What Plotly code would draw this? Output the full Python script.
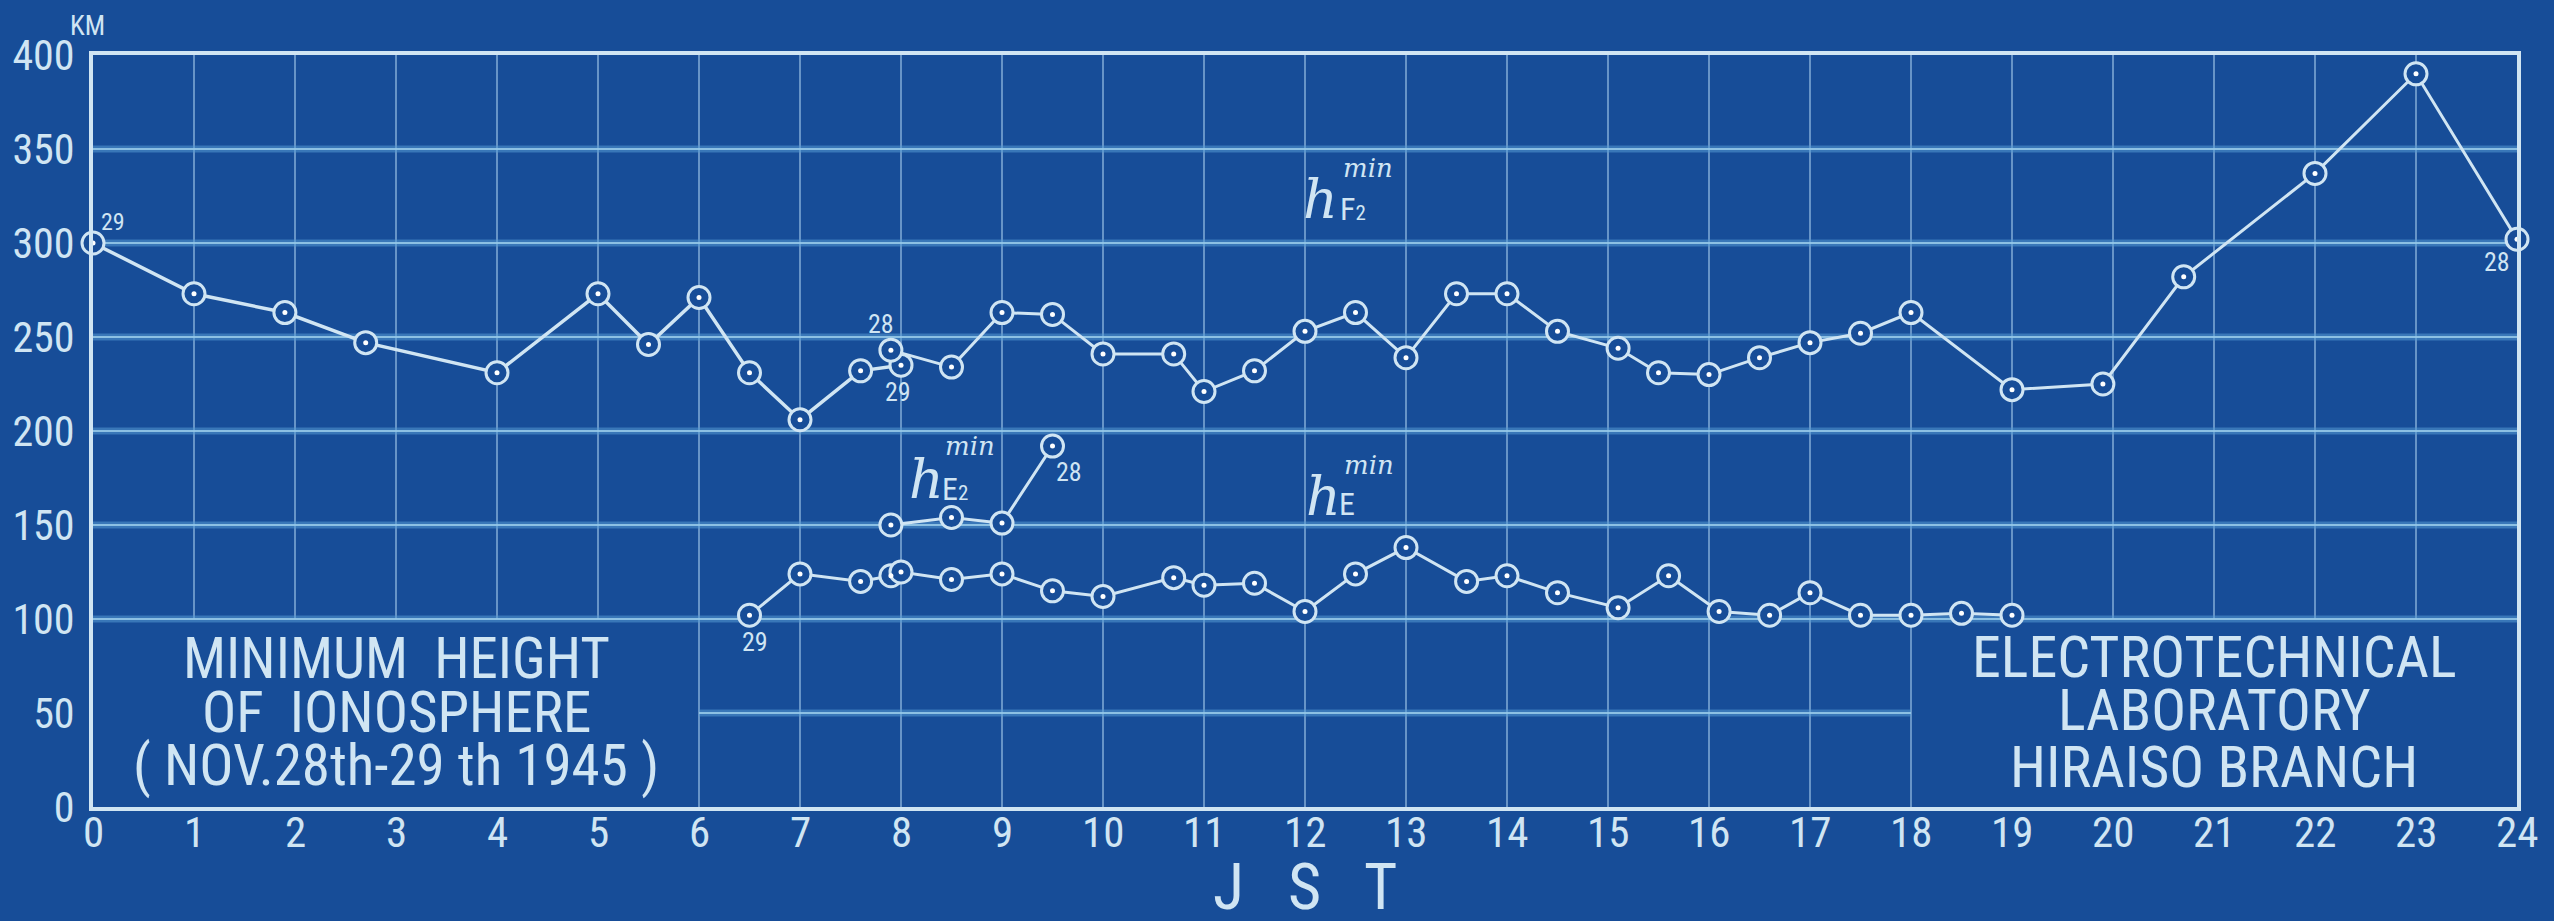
import plotly.graph_objects as go

# ---------------- data ----------------
hours = list(range(0, 25))
heights = list(range(0, 401, 50))

hF2_29_x = [0, 1, 1.9, 2.7, 4, 5, 5.5, 6, 6.5, 7, 7.6, 8.0]
hF2_29_y = [300, 273, 263, 247, 231, 273, 246, 271, 231, 206, 232, 235]

hF2_28_x = [7.9, 8.5, 9, 9.5, 10, 10.7, 11, 11.5, 12, 12.5, 13, 13.5, 14, 14.5,
            15.1, 15.5, 16, 16.5, 17, 17.5, 18, 19, 19.9, 20.7, 22, 23, 24]
hF2_28_y = [243, 234, 263, 262, 241, 241, 221, 232, 253, 263, 239, 273, 273, 253,
            244, 231, 230, 239, 247, 252, 263, 222, 225, 282, 337, 390, 302]

hE2_x = [7.9, 8.5, 9, 9.5]
hE2_y = [150, 154, 151, 192]

hE_x = [6.5, 7, 7.6, 7.9, 8.0, 8.5, 9, 9.5, 10, 10.7, 11, 11.5, 12, 12.5, 13,
        13.6, 14, 14.5, 15.1, 15.6, 16.1, 16.6, 17, 17.5, 18, 18.5, 19]
hE_y = [102, 124, 120, 123, 125, 121, 124, 115, 112, 122, 118, 119, 104, 124, 138,
        120, 123, 114, 106, 123, 104, 102, 114, 102, 102, 103, 102]

left_title = ["MINIMUM  HEIGHT", "OF  IONOSPHERE", "( NOV.28th-29 th 1945 )"]
right_title = ["ELECTROTECHNICAL", "LABORATORY", "HIRAISO BRANCH"]

# ---------------- style ----------------
BG = "#174d98"
INK = "rgb(208,229,243)"
GRID_V = "rgba(165,205,235,0.75)"
GRID_H_HALO = "rgba(85,155,212,0.55)"
GRID_H = "rgba(150,200,232,0.9)"
FONT = "Liberation Sans Narrow, Roboto Condensed, Liberation Sans, Roboto, sans-serif"
SERIF = "DejaVu Serif, Liberation Serif, serif"

# regions kept free of grid (text boxes)
LEFT_BOX = dict(x0=0, x1=6, y1=100)
RIGHT_BOX = dict(x0=18, x1=24, y1=100)

fig = go.Figure()

def add_series(xs, ys, width=3):
    fig.add_trace(go.Scatter(
        x=xs, y=ys, mode="lines+markers",
        line=dict(color=INK, width=width),
        marker=dict(symbol="circle", size=22, color=BG,
                    line=dict(color=INK, width=3)),
        hoverinfo="skip", showlegend=False, cliponaxis=False))
    fig.add_trace(go.Scatter(
        x=xs, y=ys, mode="markers",
        marker=dict(symbol="circle", size=5, color="white"),
        hoverinfo="skip", showlegend=False, cliponaxis=False))

add_series(hF2_29_x, hF2_29_y, 3.5)
add_series(hF2_28_x, hF2_28_y, 3)
add_series(hE2_x, hE2_y, 3)
add_series(hE_x, hE_y, 3)

# ---------------- grid (as shapes, skipping text boxes) ----------------
shapes = []
for h in hours[1:-1]:
    y0 = 0
    if LEFT_BOX["x0"] < h < LEFT_BOX["x1"] or RIGHT_BOX["x0"] < h < RIGHT_BOX["x1"]:
        y0 = LEFT_BOX["y1"]
    shapes.append(dict(type="line", xref="x", yref="y", x0=h, x1=h, y0=y0, y1=heights[-1],
                       line=dict(color=GRID_V, width=1.5), layer="below"))
for v in heights[1:-1]:
    x0, x1 = hours[0], hours[-1]
    if v < LEFT_BOX["y1"]:
        x0, x1 = LEFT_BOX["x1"], RIGHT_BOX["x0"]
    shapes.append(dict(type="line", xref="x", yref="y", x0=x0, x1=x1, y0=v, y1=v,
                       line=dict(color=GRID_H_HALO, width=7), layer="below"))
    shapes.append(dict(type="line", xref="x", yref="y", x0=x0, x1=x1, y0=v, y1=v,
                       line=dict(color=GRID_H, width=2), layer="below"))

# ---------------- annotations ----------------
ann = []

def txt(x, y, s, size, family=FONT, xanchor="center", yanchor="middle"):
    ann.append(dict(x=x, y=y, xref="x", yref="y", text=s, showarrow=False,
                    font=dict(family=family, size=size, color=INK),
                    xanchor=xanchor, yanchor=yanchor))

# x tick labels (placed just under the axis)
for h in hours:
    ann.append(dict(x=h, y=0, xref="x", yref="paper", text=str(h), showarrow=False,
                    xanchor="center", yanchor="middle", yshift=-25,
                    font=dict(family=FONT, size=43, color=INK)))

# box texts
for s, yy in zip(left_title, [79, 50.5, 22]):
    txt(3.0, yy, s, 57)
for s, yy in zip(right_title, [80, 51.5, 21.5]):
    txt(21.0, yy, s, 58)

# curve labels (h^min with a layer name)
def hlabel(xh, yh, sub, xs, ys, xm, ym):
    txt(xh, yh, "<i>h</i>", 54, family=SERIF)
    txt(xs, ys, sub, 32, xanchor="left")
    txt(xm, ym, "<i>min</i>", 26, family=SERIF, xanchor="left")

SMALL2 = "<span style='font-size:21px'>2</span>"
hlabel(12.15, 323, "F" + SMALL2, 12.33, 318, 12.36, 340)
hlabel(8.25, 174, "E" + SMALL2, 8.39, 169, 8.42, 192)
hlabel(12.18, 165, "E", 12.32, 161, 12.37, 182)

# day labels
txt(0.2, 311, "29", 24)
txt(7.8, 257, "28", 26)
txt(7.97, 221, "29", 26)
txt(23.8, 290, "28", 26)
txt(9.66, 178, "28", 26)
txt(6.55, 88, "29", 26)

# KM unit and axis title
ann.append(dict(x=0, y=1, xref="paper", yref="paper", xshift=-6, yshift=29,
                text="KM", showarrow=False, xanchor="center", yanchor="middle",
                font=dict(family=FONT, size=27, color=INK)))
ann.append(dict(x=0.5, y=0, xref="paper", yref="paper", yshift=-80,
                text="J   S   T", showarrow=False, xanchor="center", yanchor="middle",
                font=dict(family=FONT, size=64, color=INK)))

fig.update_layout(
    width=2554, height=921,
    margin=dict(l=88, r=37, t=55, b=114),
    paper_bgcolor=BG, plot_bgcolor=BG,
    shapes=shapes, annotations=ann,
    xaxis=dict(range=[hours[0], hours[-1]], tickvals=hours,
               showticklabels=False,
               showgrid=False, zeroline=False, showline=True, mirror=True,
               linecolor=INK, linewidth=4, ticks=""),
    yaxis=dict(range=[heights[0], heights[-1]], tickvals=heights,
               ticktext=[str(v) for v in heights],
               showgrid=False, zeroline=False, showline=True, mirror=True,
               linecolor=INK, linewidth=4, ticks="", ticklabelstandoff=6,
               tickfont=dict(family=FONT, size=42, color=INK)),
)

fig.write_html("out.html",
               config={"displayModeBar": False},
               post_script="document.body.style.margin='0px';"
                           "document.body.style.background='" + BG + "';")
